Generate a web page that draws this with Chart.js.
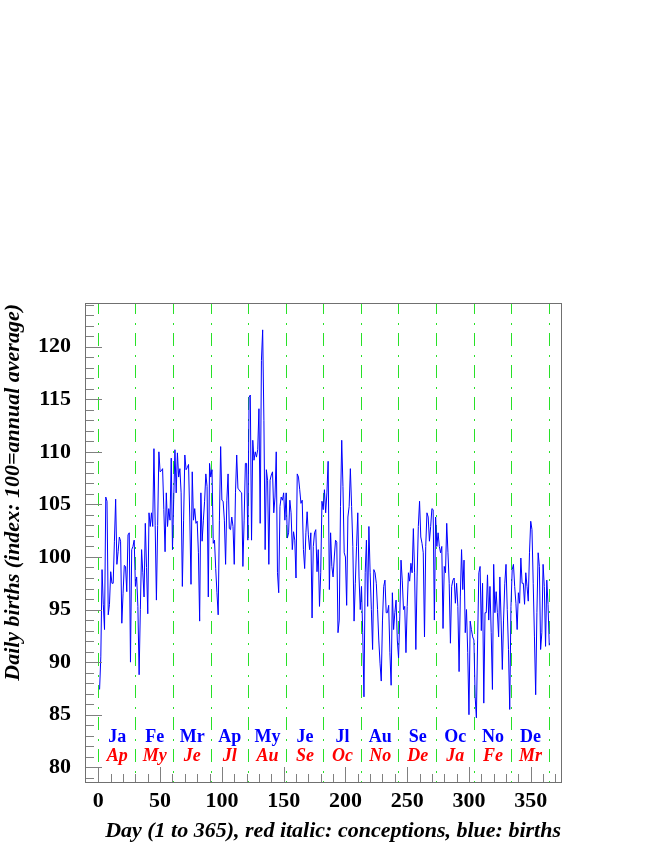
<!DOCTYPE html>
<html>
<head>
<meta charset="utf-8">
<script src="https://cdn.jsdelivr.net/npm/chart.js@4/dist/chart.umd.min.js"></script>
<style>
  html, body { margin: 0; padding: 0; background: #ffffff; }
  canvas { display: block; }
</style>
</head>
<body>
<canvas id="c" width="654" height="846"></canvas>
<script>
// ---- Data ----
const births = [
  87.4, 90.5, 98.8, 95.5, 93.1, 105.7, 105.3, 94.5, 95.5, 98.6,
  97.5, 97.5, 101.5, 105.5, 99.3, 100.5, 101.9, 101.5, 93.7, 96.5,
  99.2, 99.1, 96.7, 102.1, 102.3, 90.0, 100.7, 101.0, 101.6, 97.2,
  98.1, 95.3, 88.8, 95.0, 100.7, 98.5, 96.2, 103.2, 99.0, 94.6,
  104.2, 102.9, 104.2, 102.9, 110.3, 103.0, 95.9, 103.0, 110.0, 108.1,
  108.2, 108.4, 104.5, 100.5, 106.1, 102.9, 104.6, 103.5, 109.4, 100.7,
  105.5, 110.2, 106.1, 109.9, 107.6, 108.4, 106.1, 97.2, 103.5, 109.7,
  108.3, 108.5, 108.8, 103.8, 97.4, 108.1, 103.5, 104.6, 103.2, 103.4,
  100.4, 93.9, 106.1, 101.5, 103.5, 105.3, 107.9, 106.7, 96.2, 108.9,
  107.6, 108.3, 101.3, 101.6, 98.9, 96.6, 94.5, 103.5, 110.5, 105.4,
  105.3, 103.5, 99.3, 105.4, 107.9, 102.7, 102.6, 103.8, 102.9, 99.3,
  106.1, 109.7, 106.5, 106.4, 106.2, 106.1, 99.1, 103.5, 108.9, 108.9,
  101.6, 115.2, 115.4, 101.6, 111.1, 109.2, 110.0, 109.5, 110.2, 114.1,
  103.2, 118.7, 121.6, 113.0, 100.7, 108.3, 107.3, 99.3, 107.3, 107.8,
  108.1, 104.2, 105.7, 110.0, 98.5, 96.6, 104.8, 105.7, 105.4, 106.1,
  103.5, 106.1, 101.8, 102.3, 105.4, 104.2, 100.7, 102.4, 101.6, 98.0,
  107.9, 107.6, 106.4, 105.1, 105.4, 100.7, 98.9, 102.3, 104.3, 102.1,
  100.7, 102.3, 94.2, 101.0, 102.3, 102.6, 98.6, 100.7, 95.3, 98.5,
  105.3, 104.5, 106.4, 104.2, 106.1, 109.1, 96.9, 102.3, 99.1, 98.1,
  100.0, 101.6, 101.4, 92.8, 94.0, 104.8, 111.1, 106.7, 100.4, 100.0,
  95.4, 103.8, 104.8, 108.4, 104.8, 101.0, 93.9, 97.5, 101.0, 104.2,
  98.1, 95.0, 97.2, 92.8, 86.7, 98.5, 101.6, 95.3, 102.9, 98.5,
  95.0, 91.2, 98.8, 98.5, 97.5, 95.0, 92.1, 89.9, 88.2, 94.0,
  97.2, 97.8, 94.7, 94.7, 95.4, 90.9, 87.8, 96.6, 93.1, 94.7,
  95.9, 92.1, 90.4, 94.3, 99.7, 97.8, 95.0, 95.3, 90.9, 95.3,
  98.5, 97.7, 99.4, 98.5, 102.7, 98.5, 91.2, 98.1, 102.9, 105.3,
  101.9, 101.3, 100.4, 92.4, 101.0, 104.2, 103.8, 101.5, 102.9, 104.6,
  104.5, 94.0, 103.8, 101.0, 102.3, 101.0, 100.4, 101.0, 93.2, 99.1,
  98.5, 103.2, 100.4, 97.5, 91.8, 97.2, 97.8, 98.0, 95.6, 97.5,
  95.3, 89.1, 96.2, 100.7, 96.9, 99.7, 92.8, 95.0, 90.9, 85.0,
  93.9, 93.1, 92.4, 92.1, 86.7, 84.7, 92.1, 98.5, 99.1, 93.0,
  97.5, 86.1, 94.7, 94.7, 98.3, 94.0, 97.2, 92.8, 87.4, 99.3,
  94.7, 96.7, 94.7, 92.4, 98.1, 94.0, 89.3, 94.0, 97.5, 99.3,
  95.0, 91.2, 85.5, 95.3, 98.8, 99.3, 97.2, 95.6, 93.1, 96.6,
  95.6, 99.9, 97.5, 97.5, 95.5, 98.5, 97.2, 95.8, 100.4, 103.4,
  102.6, 97.5, 92.4, 86.9, 94.7, 100.4, 99.1, 91.2, 92.8, 99.3,
  97.2, 91.5, 97.8, 95.5, 91.6
];
const birthMonths = ['Ja','Fe','Mr','Ap','My','Je','Jl','Au','Se','Oc','No','De'];
const conceptionMonths = ['Ap','My','Je','Jl','Au','Se','Oc','No','De','Ja','Fe','Mr'];
const xTickLabels = [0, 50, 100, 150, 200, 250, 300, 350];
const yTickLabels = [80, 85, 90, 95, 100, 105, 110, 115, 120];
const yearDays = 365;

// ---- Chart ----
const serif = "'Liberation Serif', 'Times New Roman', serif";
const monthLen = yearDays / birthMonths.length;

const rootStyle = {
  id: 'rootStyle',
  beforeDraw(chart) {
    const ctx = chart.ctx;
    ctx.save();
    ctx.fillStyle = '#ffffff';
    ctx.fillRect(0, 0, chart.width, chart.height);
    ctx.restore();
  },
  afterDatasetsDraw(chart) {
    const {ctx, chartArea: a, scales: {x, y}} = chart;
    ctx.save();
    // inner tick marks
    ctx.strokeStyle = '#808080';
    ctx.lineWidth = 1;
    ctx.beginPath();
    x.ticks.forEach(t => {
      const px = Math.round(x.getPixelForValue(t.value)) + 0.5;
      const len = (t.value % 50 === 0) ? 15 : 8;
      ctx.moveTo(px, a.bottom);
      ctx.lineTo(px, a.bottom - len);
    });
    y.ticks.forEach(t => {
      const py = Math.round(y.getPixelForValue(t.value)) + 0.5;
      const len = (t.value % 5 === 0) ? 16 : 8;
      ctx.moveTo(a.left, py);
      ctx.lineTo(a.left + len, py);
    });
    ctx.stroke();
    // frame
    ctx.strokeStyle = '#707070';
    ctx.strokeRect(Math.round(a.left) - 0.5, Math.round(a.top) - 0.5,
                   Math.round(a.right - a.left) + 1, Math.round(a.bottom - a.top) + 1);
    // month labels
    ctx.textAlign = 'center';
    ctx.textBaseline = 'alphabetic';
    birthMonths.forEach((m, k) => {
      const cx = x.getPixelForValue((k + 0.5) * monthLen);
      ctx.font = 'bold 18px ' + serif;
      ctx.fillStyle = '#0000ff';
      ctx.fillText(m, cx, y.getPixelForValue(82.45));
      ctx.font = 'italic bold 18px ' + serif;
      ctx.fillStyle = '#ff0000';
      ctx.fillText(conceptionMonths[k], cx, y.getPixelForValue(80.55));
    });
    ctx.restore();
  }
};

new Chart(document.getElementById('c'), {
  type: 'line',
  data: {
    datasets: [{
      data: births.map((v, i) => ({x: i + 1, y: v})),
      borderColor: '#0000ff',
      borderWidth: 1,
      pointRadius: 0,
      tension: 0,
      fill: false
    }]
  },
  options: {
    responsive: false,
    animation: false,
    events: [],
    layout: {padding: {left: 0, right: 93, top: 304, bottom: 0}},
    plugins: {legend: {display: false}, tooltip: {enabled: false}},
    scales: {
      x: {
        type: 'linear',
        position: 'bottom',
        min: -10,
        max: 374.5,
        afterBuildTicks: s => {
          const t = [];
          for (let v = 0; v <= 370; v += 10) t.push({value: v});
          s.ticks = t;
        },
        afterFit: s => { s.height = 64; },
        grid: {display: false, drawTicks: false, tickLength: 0},
        border: {display: false},
        ticks: {
          autoSkip: false,
          maxRotation: 0,
          padding: 6,
          color: '#000000',
          font: {family: serif, size: 22, weight: 'bold'},
          callback: v => xTickLabels.includes(v) ? String(v) : ''
        },
        title: {
          display: true,
          text: 'Day (1 to 365), red italic: conceptions, blue: births',
          align: 'end',
          color: '#000000',
          padding: {top: 0, bottom: 1},
          font: {family: serif, size: 22, weight: 'bold', style: 'italic'}
        }
      },
      months: {
        type: 'linear',
        position: 'top',
        min: -10,
        max: 374.5,
        afterBuildTicks: s => {
          const t = [];
          for (let k = 0; k <= birthMonths.length; k++) t.push({value: k * monthLen});
          s.ticks = t;
        },
        afterFit: s => { s.height = 0; },
        ticks: {display: false},
        grid: {display: true, drawOnChartArea: true, drawTicks: false,
               color: 'rgb(40,225,40)', lineWidth: 1},
        border: {display: false, dash: [13, 9, 2, 8], dashOffset: 3}
      },
      y: {
        type: 'linear',
        position: 'left',
        min: 78.6,
        max: 124.06,
        afterBuildTicks: s => {
          const t = [];
          for (let v = 79; v <= 124; v++) t.push({value: v});
          s.ticks = t;
        },
        afterFit: s => { s.width = 86; },
        grid: {display: false, drawTicks: false, tickLength: 0},
        border: {display: false},
        ticks: {
          autoSkip: false,
          padding: 15,
          color: '#000000',
          font: {family: serif, size: 22, weight: 'bold'},
          callback: v => yTickLabels.includes(v) ? String(v) : ''
        },
        title: {
          display: true,
          text: 'Daily births (index: 100=annual average)',
          align: 'end',
          color: '#000000',
          padding: {top: 0, bottom: 0},
          font: {family: serif, size: 22, weight: 'bold', style: 'italic'}
        }
      }
    }
  },
  plugins: [rootStyle]
});
</script>
</body>
</html>
